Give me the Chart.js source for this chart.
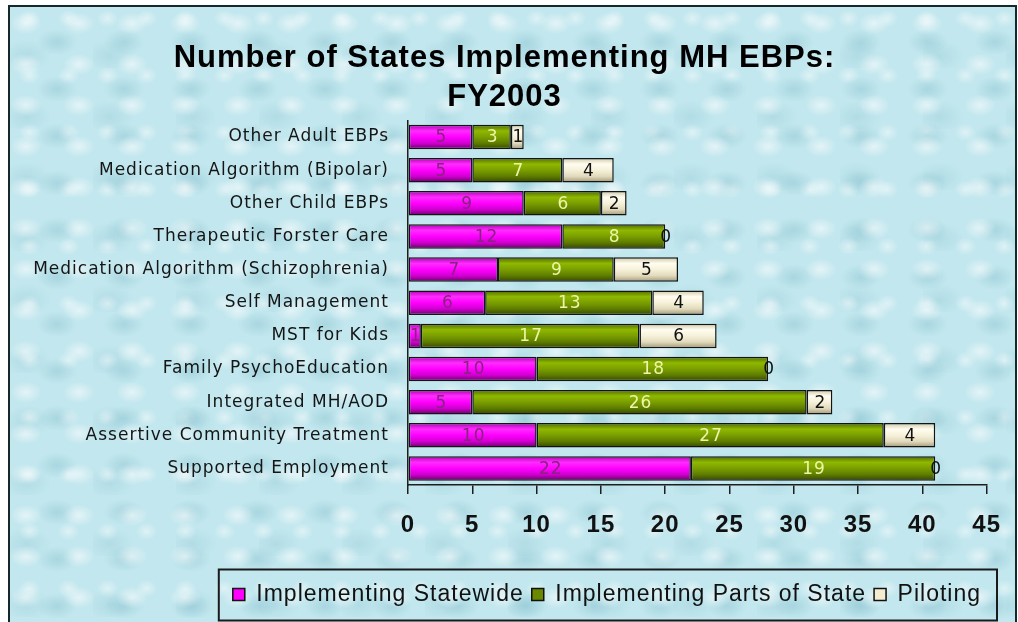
<!DOCTYPE html>
<html>
<head>
<meta charset="utf-8">
<script src="https://cdn.jsdelivr.net/npm/chart.js@4.4.0/dist/chart.umd.min.js"></script>
<style>
  html, body { margin: 0; padding: 0; background: #fff; overflow: hidden; }
  #frame {
    position: absolute; left: 8px; top: 5px; width: 1005px; height: 640px;
    border: 2px solid #16282c;
    background-color: #c2e7ee;
    background-image:
      radial-gradient(ellipse 16px 11px at 30% 40%, rgba(255,255,255,.55), rgba(255,255,255,0) 100%),
      radial-gradient(ellipse 20px 13px at 70% 75%, rgba(110,175,192,.3), rgba(110,175,192,0) 100%),
      radial-gradient(ellipse 11px 9px at 50% 20%, rgba(255,255,255,.45), rgba(255,255,255,0) 100%),
      radial-gradient(ellipse 24px 16px at 20% 80%, rgba(140,195,208,.3), rgba(140,195,208,0) 100%);
    background-size: 53px 41px, 67px 47px, 39px 57px, 83px 61px;
  }
  #chart { position: absolute; left: 0; top: 0; }
</style>
</head>
<body>
<div id="frame"></div>
<canvas id="chart" width="1018" height="622"></canvas>
<script>
// Categories top to bottom, as in the picture
const categories = [
  "Other Adult EBPs",
  "Medication Algorithm (Bipolar)",
  "Other Child EBPs",
  "Therapeutic Forster Care",
  "Medication Algorithm (Schizophrenia)",
  "Self Management",
  "MST for Kids",
  "Family PsychoEducation",
  "Integrated MH/AOD",
  "Assertive Community Treatment",
  "Supported Employment"
];
const statewide    = [5, 5, 9, 12, 7, 6, 1, 10, 5, 10, 22];
const partsOfState = [3, 7, 6, 8, 9, 13, 17, 18, 26, 27, 19];
const piloting     = [1, 4, 2, 0, 5, 4, 6, 0, 2, 4, 0];
const xTicks = [0, 5, 10, 15, 20, 25, 30, 35, 40, 45];

const BAR_PCT = 0.74;
const labelColors = ["#86247f", "#eef5a6", "#111"];
const legendColors = ["#ff00ff", "#6a8800", "#f3eed2"];

// vertical shading across each bar, like the old office gradient fill
function barFill(stops) {
  return (c) => {
    const chart = c.chart;
    const y = chart.scales.y;
    if (!y || c.type !== "data" || !y.height) return stops[2];
    const cy = y.getPixelForValue(c.dataIndex);
    const half = (y.height / categories.length) * BAR_PCT / 2;
    const g = chart.ctx.createLinearGradient(0, cy - half, 0, cy + half);
    stops.forEach((col, i) => g.addColorStop(i / (stops.length - 1), col));
    return g;
  };
}

// letter spacing for the whole canvas, the original text is loosely spaced
const spacing = {
  id: "spacing",
  beforeUpdate(chart) { chart.ctx.letterSpacing = "1px"; },
  beforeDraw(chart) { chart.ctx.letterSpacing = "1px"; }
};

// value labels in the middle of every segment
const barLabels = {
  id: "barLabels",
  afterDatasetsDraw(chart) {
    const ctx = chart.ctx;
    ctx.save();
    ctx.font = '17px "DejaVu Sans"';
    ctx.textAlign = "center";
    ctx.textBaseline = "middle";
    chart.data.datasets.forEach((ds, di) => {
      chart.getDatasetMeta(di).data.forEach((bar, i) => {
        const p = bar.getCenterPoint();
        ctx.fillStyle = labelColors[di];
        ctx.fillText(String(ds.data[i]), p.x + 1, p.y + 1);
      });
    });
    ctx.restore();
  }
};

// box round the legend
const legendBox = {
  id: "legendBox",
  afterDraw(chart) {
    const hb = chart.legend.legendHitBoxes;
    if (!hb || !hb.length) return;
    const last = hb[hb.length - 1];
    const cy = hb[0].top + hb[0].height / 2;
    const left = hb[0].left - 14;
    const ctx = chart.ctx;
    ctx.save();
    ctx.strokeStyle = "#1a1a1a";
    ctx.lineWidth = 2;
    ctx.strokeRect(left, cy - 25, last.left + last.width + 16 - left, 51);
    ctx.restore();
  }
};

const ctx = document.getElementById("chart");
new Chart(ctx, {
  type: "bar",
  data: {
    labels: categories,
    datasets: [
      {
        label: "Implementing Statewide",
        data: statewide,
        backgroundColor: barFill(["#b000b0", "#ff2cff", "#ff00ff", "#d000d0", "#660066"])
      },
      {
        label: "Implementing Parts of State",
        data: partsOfState,
        backgroundColor: barFill(["#4e6800", "#8fb800", "#7a9e00", "#5e7c00", "#344600"])
      },
      {
        label: "Piloting",
        data: piloting,
        backgroundColor: barFill(["#cfc6a4", "#fffdf0", "#f6f1da", "#e2dabb", "#9e9678"])
      }
    ]
  },
  options: {
    indexAxis: "y",
    responsive: false,
    devicePixelRatio: 1,
    animation: false,
    datasets: {
      bar: {
        barPercentage: BAR_PCT,
        categoryPercentage: 1,
        borderColor: "#141414",
        borderWidth: 1.5,
        borderSkipped: false
      }
    },
    layout: { padding: { left: 20, right: 29, top: 0, bottom: 6 } },
    scales: {
      x: {
        stacked: true,
        min: 0,
        max: 45,
        afterBuildTicks: (scale) => { scale.ticks = xTicks.map((v) => ({ value: v })); },
        afterFit: (scale) => { scale.height = 90; },
        grid: { drawOnChartArea: false, drawTicks: true, tickLength: 9, color: "#1e1e1e", lineWidth: 1.5 },
        border: { display: true, color: "#1e1e1e", width: 1.5 },
        ticks: {
          color: "#111",
          padding: 17,
          font: { family: '"Liberation Sans", Arial, sans-serif', size: 24, weight: "bold" }
        }
      },
      y: {
        stacked: true,
        afterFit: (scale) => { scale.width = 388; },
        grid: { drawOnChartArea: false, drawTicks: false },
        border: { display: true, color: "#1e1e1e", width: 1.5 },
        ticks: {
          color: "#151515",
          padding: 19,
          autoSkip: false,
          font: { family: '"DejaVu Sans", sans-serif', size: 17 }
        }
      }
    },
    plugins: {
      title: {
        display: true,
        text: ["Number of States Implementing MH EBPs:", "FY2003"],
        color: "#000",
        font: { family: '"Liberation Sans", Arial, sans-serif', size: 31, weight: "bold", lineHeight: 1.25 },
        padding: { top: 39, bottom: 4 }
      },
      legend: {
        position: "bottom",
        align: "end",
        labels: {
          color: "#111",
          boxWidth: 12,
          boxHeight: 12,
          padding: 8,
          font: { family: '"Liberation Sans", Arial, sans-serif', size: 23 },
          generateLabels: (chart) =>
            Chart.defaults.plugins.legend.labels.generateLabels(chart).map((item, i) => {
              item.fillStyle = legendColors[i];
              item.strokeStyle = "#111";
              item.lineWidth = 1.5;
              return item;
            })
        }
      },
      tooltip: { enabled: false }
    }
  },
  plugins: [spacing, barLabels, legendBox]
});
</script>
</body>
</html>
